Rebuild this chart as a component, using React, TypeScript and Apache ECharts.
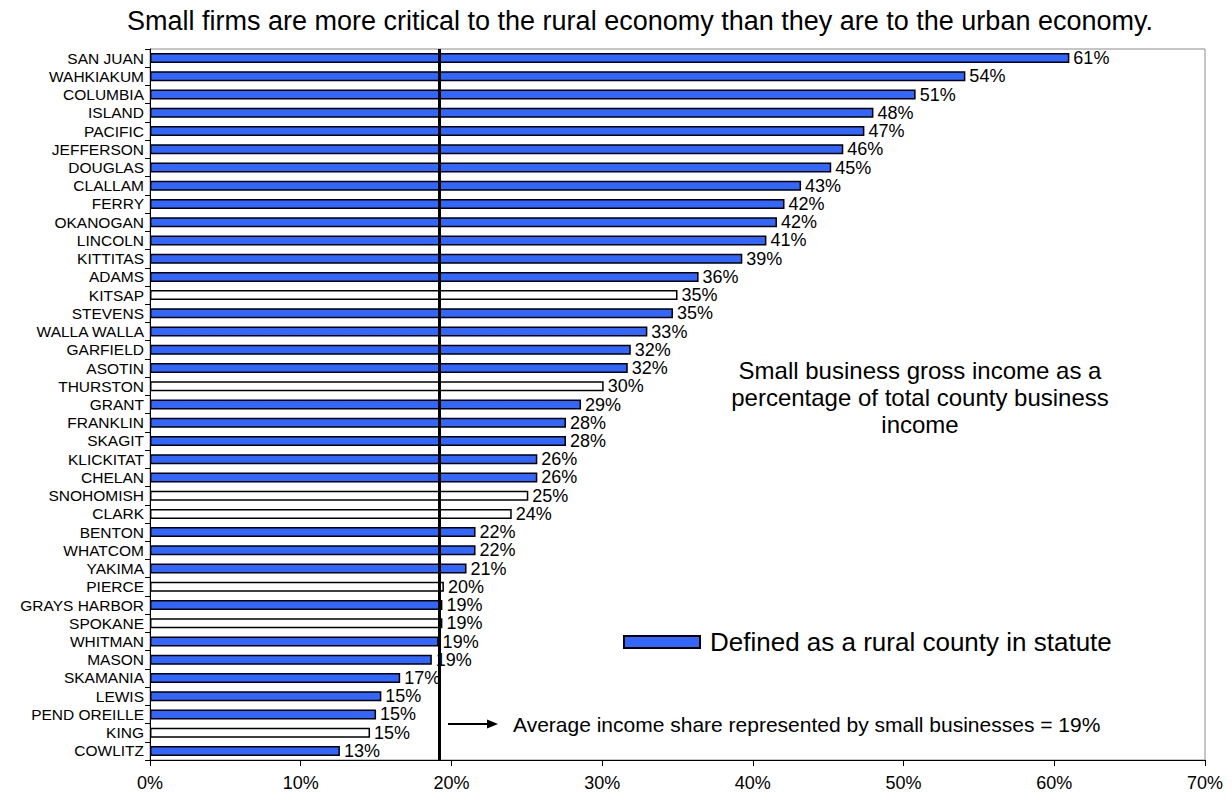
import React, { useEffect, useRef } from "react";
import * as echarts from "echarts";

const counties = [
  "SAN JUAN", "WAHKIAKUM", "COLUMBIA", "ISLAND", "PACIFIC", "JEFFERSON", "DOUGLAS",
  "CLALLAM", "FERRY", "OKANOGAN", "LINCOLN", "KITTITAS", "ADAMS", "KITSAP", "STEVENS",
  "WALLA WALLA", "GARFIELD", "ASOTIN", "THURSTON", "GRANT", "FRANKLIN", "SKAGIT",
  "KLICKITAT", "CHELAN", "SNOHOMISH", "CLARK", "BENTON", "WHATCOM", "YAKIMA", "PIERCE",
  "GRAYS HARBOR", "SPOKANE", "WHITMAN", "MASON", "SKAMANIA", "LEWIS", "PEND OREILLE",
  "KING", "COWLITZ",
];

const shares = [
  61.0, 54.1, 50.8, 48.0, 47.4, 46.0, 45.2,
  43.2, 42.1, 41.6, 40.9, 39.3, 36.4, 35.0, 34.7,
  33.0, 31.9, 31.7, 30.1, 28.6, 27.6, 27.6,
  25.7, 25.7, 25.1, 24.0, 21.6, 21.6, 21.0, 19.5,
  19.4, 19.4, 19.15, 18.7, 16.6, 15.35, 15.0,
  14.6, 12.6,
];

const urbanCounties = ["KITSAP", "THURSTON", "SNOHOMISH", "CLARK", "PIERCE", "SPOKANE", "KING"];

const averageShare = 19.2;
const xTicks = [0, 10, 20, 30, 40, 50, 60, 70];

const titleText = "Small firms are more critical to the rural economy than they are to the urban economy.";
const noteText = "Small business gross income as a\npercentage of total county business\nincome";
const avgText = "Average income share represented by small businesses = 19%";
const legendText = "Defined as a rural county in statute";

const FONT = "'Liberation Sans', Arial, Helvetica, sans-serif";
const BLUE = "#3366ff";

export default function App() {
  const ref = useRef<HTMLDivElement>(null);

  useEffect(() => {
    if (!ref.current) return;
    const chart = echarts.init(ref.current, null, { renderer: "svg" });
    const data = counties.map((c, i) => ({
      value: shares[i],
      itemStyle: urbanCounties.includes(c) ? { color: "#ffffff" } : undefined,
    }));
    chart.setOption({
      animation: false,
      backgroundColor: "#ffffff",
      textStyle: { fontFamily: FONT },
      grid: {
        left: 150,
        right: 27,
        top: 49,
        bottom: 41,
        show: true,
        borderColor: "#8c8c8c",
        borderWidth: 1,
        backgroundColor: "transparent",
      },
      legend: {
        data: [legendText],
        left: 623,
        top: 629,
        padding: 0,
        icon: "rect",
        itemWidth: 76,
        itemHeight: 12,
        itemGap: 10,
        selectedMode: false,
        textStyle: { fontSize: 26, color: "#000", fontFamily: FONT, padding: [0, 0, 0, 5] },
      },
      xAxis: {
        type: "value",
        min: xTicks[0],
        max: xTicks[xTicks.length - 1],
        interval: 10,
        axisLine: { show: true, lineStyle: { color: "#000", width: 1 } },
        axisTick: { show: true, length: 6, lineStyle: { color: "#000" } },
        splitLine: { show: false },
        axisLabel: {
          formatter: "{value}%",
          fontSize: 18,
          color: "#000",
          margin: 14,
          fontFamily: FONT,
        },
      },
      yAxis: {
        type: "category",
        data: counties,
        inverse: true,
        axisLine: { show: true, lineStyle: { color: "#000", width: 1 } },
        axisTick: { show: true, length: 5, interval: 0, lineStyle: { color: "#000" } },
        axisLabel: { fontSize: 15.5, color: "#000", margin: 6, interval: 0, fontFamily: FONT },
        splitLine: { show: false },
      },
      series: [
        {
          name: legendText,
          type: "bar",
          data,
          barWidth: 10,
          itemStyle: { color: BLUE, borderColor: "#000", borderWidth: 1.5 },
          label: {
            show: true,
            position: "right",
            distance: 4,
            fontSize: 18,
            color: "#000",
            fontFamily: FONT,
            formatter: (p: any) => Math.round(p.value) + "%",
          },
          markLine: {
            silent: true,
            symbol: ["none", "none"],
            label: { show: false },
            lineStyle: { color: "#000", width: 3, type: "solid" },
            data: [{ xAxis: averageShare }],
          },
        },
      ],
      graphic: [
        {
          type: "text",
          style: {
            x: 640,
            y: 21,
            text: titleText,
            align: "center",
            verticalAlign: "middle",
            fontSize: 27,
            fontFamily: FONT,
            fill: "#000",
          },
        },
        {
          type: "text",
          style: {
            x: 920,
            y: 397,
            text: noteText,
            align: "center",
            verticalAlign: "middle",
            fontSize: 24,
            lineHeight: 27,
            fontFamily: FONT,
            fill: "#000",
          },
        },
        {
          type: "line",
          shape: { x1: 448, y1: 724, x2: 490, y2: 724 },
          style: { stroke: "#000", lineWidth: 2 },
        },
        {
          type: "polygon",
          shape: { points: [[487, 719.5], [498, 724], [487, 728.5]] },
          style: { fill: "#000" },
        },
        {
          type: "text",
          style: {
            x: 513,
            y: 724,
            text: avgText,
            align: "left",
            verticalAlign: "middle",
            fontSize: 21,
            fontFamily: FONT,
            fill: "#000",
          },
        },
      ],
    });
    return () => chart.dispose();
  }, []);

  return (
    <div
      ref={ref}
      style={{ position: "absolute", left: 0, top: 0, width: 1232, height: 801 }}
    />
  );
}
